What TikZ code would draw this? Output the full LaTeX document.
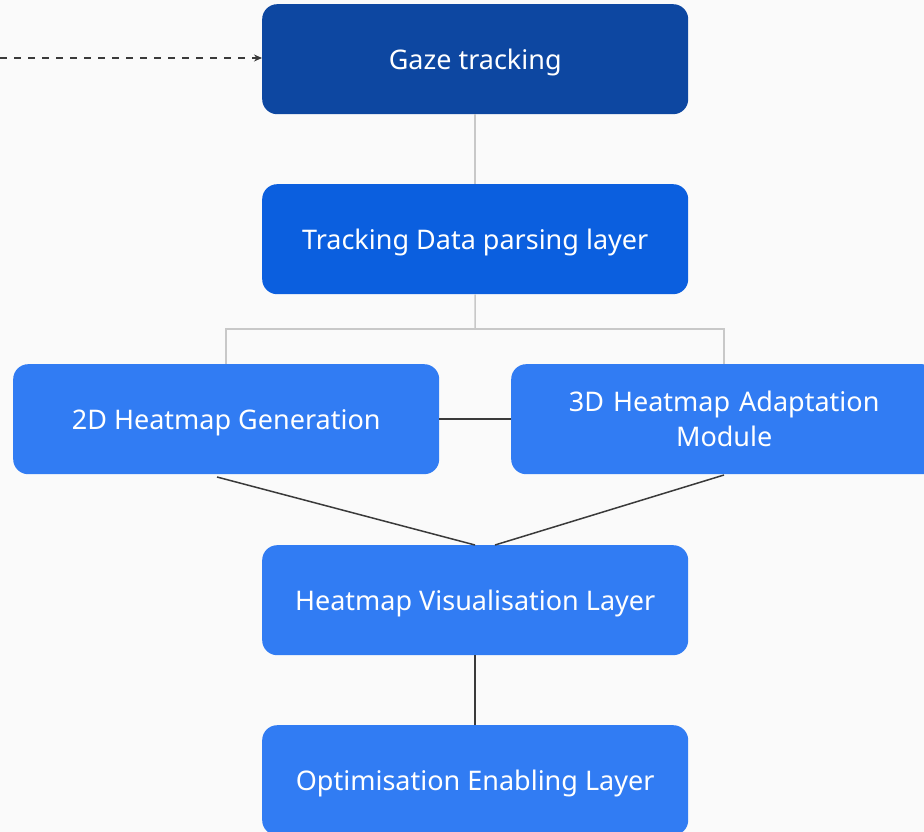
\documentclass[tikz,border=0pt]{standalone}
\usepackage{fontspec}
\setmainfont{Noto Sans}
\usetikzlibrary{arrows.meta}
\definecolor{bg}{HTML}{FAFAFA}
\definecolor{cdark}{HTML}{0D47A1}
\definecolor{cmid}{HTML}{0B5FDF}
\definecolor{clight}{HTML}{317CF3}
\definecolor{lgray}{HTML}{C8C8C8}
\definecolor{dgray}{HTML}{3A3A3A}
\tikzset{
  box/.style={rounded corners=15pt, minimum width=426pt, minimum height=110pt,
    text=white, font=\fontsize{27}{35}\selectfont, align=center, inner sep=0pt,
    anchor=north west},
  oneline/.style={text depth=0pt},
  lcon/.style={draw=lgray, line width=1.5pt},
  dcon/.style={draw=dgray, line width=1.5pt},
}
\begin{document}
\begin{tikzpicture}[x=1pt,y=-1pt]
\fill[bg] (0,0) rectangle (924,832);
\useasboundingbox (0,0) rectangle (924,832);
\begin{scope}
\clip (0,0) rectangle (924,832);
\node[box, oneline, fill=cdark] (gaze) at (262,4) {Gaze tracking};
\node[box, oneline, fill=cmid] (parse) at (262,184) {Tracking Data parsing layer};
\node[box, oneline, fill=clight] (h2d) at (13,364) {2D Heatmap Generation};
\node[box, fill=clight, text width=400pt] (h3d) at (511,364) {3D Heatmap Adaptation\\Module};
\node[box, oneline, fill=clight] (vis) at (262,545) {Heatmap Visualisation Layer};
\node[box, oneline, fill=clight] (opt) at (262,725) {Optimisation Enabling Layer};
\end{scope}
\coordinate (dstart) at (0,58);
\coordinate (split) at (475,329);
\draw[dcon, dashed, dash pattern=on 7pt off 7pt, -{Stealth[length=8pt,width=7pt]}] (dstart) -- (gaze.west |- dstart);
\draw[lcon] (gaze.south) -- (parse.north);
\draw[lcon] (parse.south) -- (split);
\draw[lcon] (226,364) |- (split) -| (724,364);
\draw[dcon] (h2d.east) -- (h3d.west);
\draw[dcon] (217,477) -- (475,545);
\draw[dcon] (724,475) -- (495,545);
\draw[dcon] (vis.south) -- (opt.north);
\end{tikzpicture}
\end{document}
